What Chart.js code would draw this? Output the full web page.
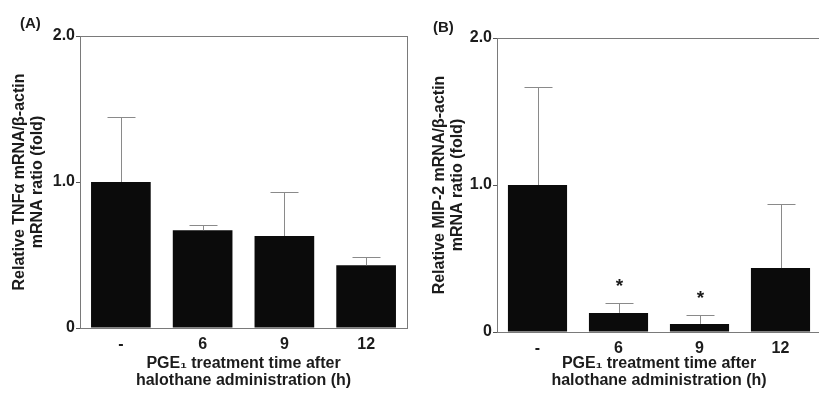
<!DOCTYPE html>
<html>
<head>
<meta charset="utf-8">
<script src="https://cdn.jsdelivr.net/npm/chart.js@4.4.1/dist/chart.umd.min.js"></script>
<style>
  body { margin: 0; background: #fff; overflow: hidden; width: 819px; height: 394px; position: relative; }
  #wrapA { position: absolute; left: 0; top: 0; }
  #wrapB { position: absolute; left: 410px; top: 0; }
</style>
</head>
<body>
<div id="wrapA"><canvas id="chartA" width="410" height="394"></canvas></div>
<div id="wrapB"><canvas id="chartB" width="414" height="394"></canvas></div>
<script>
// data
const categories = ['-', '6', '9', '12'];
const yTicks = [0, 1.0, 2.0];
const tnfMean = [1.0, 0.67, 0.63, 0.43];
const tnfSd = [0.445, 0.035, 0.30, 0.055];
const mipMean = [1.0, 0.13, 0.055, 0.435];
const mipSd = [0.67, 0.065, 0.06, 0.435];
const mipSig = [false, true, true, false];

const FONT = "'Liberation Sans', Arial, sans-serif";
const INK = '#1c1c1c';

// upper error bars, box around plot, asterisks, panel tag
const decor = {
  id: 'decor',
  afterDatasetsDraw(chart, args, opts) {
    const ctx = chart.ctx;
    const x = chart.scales.x, y = chart.scales.y;
    const a = chart.chartArea;
    ctx.save();
    ctx.strokeStyle = '#7a7a7a';
    ctx.lineWidth = 1;
    ctx.strokeRect(Math.round(a.left) + 0.5, Math.round(a.top) + 0.5,
      Math.round(a.right - a.left), Math.round(a.bottom - a.top));

    ctx.strokeStyle = '#8a8a8a';
    opts.mean.forEach((m, i) => {
      const cx = Math.round(x.getPixelForValue(i)) + 0.5;
      const y0 = y.getPixelForValue(m);
      const y1 = Math.round(y.getPixelForValue(m + opts.sd[i])) + 0.5;
      ctx.beginPath();
      ctx.moveTo(cx, y0);
      ctx.lineTo(cx, y1);
      ctx.moveTo(cx - 14, y1);
      ctx.lineTo(cx + 14, y1);
      ctx.stroke();
      if (opts.sig && opts.sig[i]) {
        ctx.fillStyle = INK;
        ctx.font = 'bold 19px ' + FONT;
        ctx.textAlign = 'center';
        ctx.textBaseline = 'middle';
        ctx.fillText('*', cx, y1 - 17);
      }
    });

    ctx.fillStyle = INK;
    ctx.font = 'bold 15px ' + FONT;
    ctx.textAlign = 'left';
    ctx.textBaseline = 'middle';
    ctx.fillText(opts.tag, opts.tagX, opts.tagY);
    ctx.restore();
  }
};

function makeChart(id, mean, sd, sig, cfg) {
  return new Chart(document.getElementById(id), {
    type: 'bar',
    data: {
      labels: categories,
      datasets: [{
        data: mean,
        backgroundColor: '#0b0b0b',
        borderWidth: 0,
        barPercentage: 0.73,
        categoryPercentage: 1.0
      }]
    },
    options: {
      responsive: false,
      animation: false,
      devicePixelRatio: 1,
      layout: { padding: { left: 0, right: cfg.padRight, top: cfg.top, bottom: 0 } },
      plugins: {
        legend: { display: false },
        tooltip: { enabled: false },
        decor: { mean: mean, sd: sd, sig: sig, tag: cfg.tag, tagX: cfg.tagX, tagY: cfg.tagY }
      },
      scales: {
        x: {
          grid: { drawOnChartArea: false, drawTicks: false },
          border: { color: '#7a7a7a', width: 1 },
          ticks: { color: INK, font: { family: FONT, size: 16, weight: 'bold' }, padding: 7 },
          title: {
            display: true,
            text: ['PGE\u2081 treatment time after', 'halothane administration (h)'],
            color: INK,
            font: { family: FONT, size: 16, weight: 'bold', lineHeight: 1.07 },
            padding: { top: 0, bottom: 5 }
          },
          afterFit(scale) { scale.height = cfg.xHeight; }
        },
        y: {
          min: 0,
          max: 2,
          afterBuildTicks(scale) { scale.ticks = yTicks.map(v => ({ value: v })); },
          grid: { drawOnChartArea: false, drawTicks: true, tickLength: 4, color: '#555' },
          border: { color: '#555', width: 1 },
          ticks: {
            color: INK,
            padding: 1,
            font: { family: FONT, size: 16, weight: 'bold' },
            callback: v => v === 0 ? '0' : v.toFixed(1)
          },
          title: {
            display: true,
            text: cfg.yTitle,
            color: INK,
            font: { family: FONT, size: 16, weight: 'bold', lineHeight: 1.07 },
            padding: { top: cfg.yTitlePad, bottom: 0 }
          },
          afterFit(scale) { scale.width = cfg.yWidth; }
        }
      }
    },
    plugins: [decor]
  });
}

makeChart('chartA', tnfMean, tnfSd, null, {
  top: 36, padRight: 3, xHeight: 66, yWidth: 80, yTitlePad: 11.5,
  yTitle: ['Relative TNF\u03b1 mRNA/\u03b2-actin', 'mRNA ratio (fold)'],
  tag: '(A)', tagX: 20, tagY: 24
});

makeChart('chartB', mipMean, mipSd, mipSig, {
  top: 38, padRight: 3, xHeight: 62, yWidth: 87, yTitlePad: 21.5,
  yTitle: ['Relative MIP-2 mRNA/\u03b2-actin', 'mRNA ratio (fold)'],
  tag: '(B)', tagX: 23, tagY: 28
});
</script>
</body>
</html>
